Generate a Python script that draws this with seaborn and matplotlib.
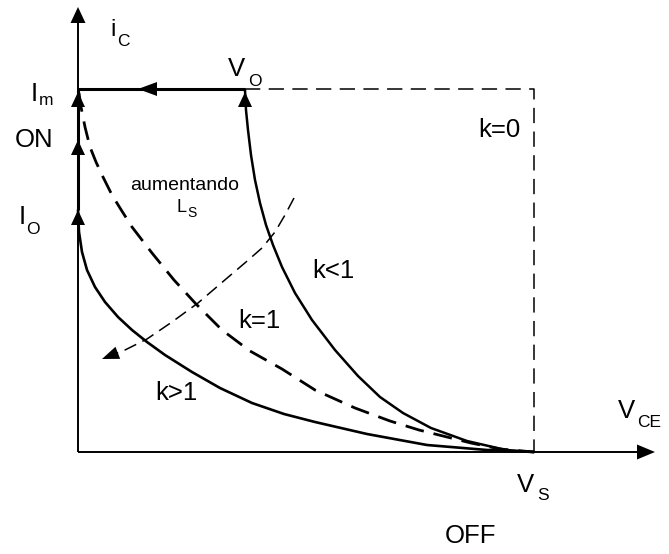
import numpy as np
import pandas as pd
import matplotlib
matplotlib.use("Agg")
import matplotlib.pyplot as plt
from matplotlib.patches import Polygon
import seaborn as sns

# Operating levels (axis units)
V_S = 456      # supply voltage
V_O = 167      # voltage at which the current reaches I_m
I_M = 363      # peak current
I_O = 242      # load current
I_ON = 312     # mid point of the ON rise
VCE_END = 577  # end of the V_CE axis
IC_END = 445   # end of the i_C axis

# Turn-off trajectories (v_CE, i_C)
k_lt1_v = [167, 168, 170, 173, 177, 182, 188, 195, 204, 217, 234, 257, 280,
           302, 325, 353, 389, 428, 456]
k_lt1_i = [362, 342, 322, 297, 272, 249, 227, 207, 185, 159, 132, 102, 76,
           55, 39, 24, 11, 2, 0]

k_eq1_v = [1, 3, 7, 12, 18, 25, 34, 42, 54, 74, 96, 118, 144, 172, 204, 237,
           277, 312, 341, 393, 422, 456]
k_eq1_i = [359, 345, 325, 305, 290, 275, 257, 244, 225, 199, 172, 148, 122,
           101, 83, 62, 44, 31, 22, 9, 3, 0]

k_gt1_v = [0, 1, 4, 9, 17, 27, 40, 54, 69, 87, 114, 142, 174, 206, 237, 289,
           349, 409, 456]
k_gt1_i = [242, 220, 200, 182, 165, 150, 135, 122, 110, 97, 80, 64, 49, 38,
           30, 18, 7, 2, 0]

# "increasing L_S" direction arrow (last point is the tip)
ls_v = [216, 207, 197, 184, 168, 148, 120, 94, 69, 47, 34, 24]
ls_i = [254, 237, 220, 204, 190, 173, 149, 130, 113, 102, 97, 93]

FONT = "Liberation Sans"

sns.set_style("white")
plt.rcParams["font.family"] = [FONT, "DejaVu Sans"]

W, H = 669, 554
fig = plt.figure(figsize=(W / 100, H / 100), dpi=100)
ax = fig.add_axes([0, 0, 1, 1])
ax.set_xlim(-78, W - 78)
ax.set_ylim(452 - H, 452)
ax.set_axis_off()


def head(tip, direction, length=15, width=14):
    d = np.asarray(direction, float)
    d = d / np.hypot(*d)
    n = np.array([-d[1], d[0]])
    tip = np.asarray(tip, float)
    base = tip - d * length
    pts = [tip, base + n * width / 2, base - n * width / 2]
    ax.add_patch(Polygon(pts, closed=True, color="black", lw=0, zorder=5))


def curve(v, i, lw, ls="-"):
    df = pd.DataFrame({"v": v, "i": i})
    sns.lineplot(data=df, x="v", y="i", sort=False, estimator=None, ax=ax,
                 color="black", lw=lw, linestyle=ls, solid_joinstyle="round",
                 dash_joinstyle="round", legend=False)


# Axes with arrows
ax.plot([0, 0], [0, IC_END - 12], color="black", lw=1.4, solid_capstyle="butt")
ax.plot([0, VCE_END - 14], [0, 0], color="black", lw=1.4, solid_capstyle="butt")
head((0, IC_END), (0, 1), 16, 15)
head((VCE_END, 0), (1, 0), 18, 15)

# ON segment and I_m plateau
ax.plot([0, 0], [I_O, I_M], color="black", lw=2.2, solid_capstyle="butt")
ax.plot([0, V_O], [I_M, I_M], color="black", lw=2.2, solid_capstyle="butt")
head((0, I_M - 3), (0, 1))
head((0, I_ON), (0, 1))
head((0, I_O), (0, 1))
head((60, I_M), (-1, 0), 19, 14)

# k = 0 (ideal rectangular path)
ax.plot([V_O, V_S, V_S], [I_M, I_M, 0], color="black", lw=1.1,
        linestyle=(0, (10, 5.5)))

# Trajectories
curve(k_lt1_v, k_lt1_i, 1.8)
head((V_O, I_M - 3), (0, 1))
curve(k_eq1_v, k_eq1_i, 2.0, (0, (6.8, 3.6)))
curve(k_gt1_v, k_gt1_i, 1.9)

# Increasing L_S arrow
curve(ls_v[:-1], ls_i[:-1], 1.1, (0, (8.5, 4.5)))
head((ls_v[-1], ls_i[-1]), (ls_v[-1] - ls_v[-3], ls_i[-1] - ls_i[-3]), 17, 13)


def label(x, y, s, size=18.5):
    ax.text(x - 78, 452 - y, s, fontsize=size, family=FONT, ha="left",
            va="baseline", color="black")


SUB = 12.5
label(110, 36, "i", 17)
label(117, 46, "C", SUB)
label(31, 101, "I")
label(39, 105, "m", SUB)
label(15, 147, "ON")
label(19, 224, "I")
label(26, 234, "O", SUB)
label(228, 76, "V")
label(248, 86, "O", SUB)
label(478, 137, "k=0")
label(130, 190, "aumentando", 14)
label(177, 212, "L", 13)
label(187, 217, "S", 10)
label(312, 278, "k<1")
label(238, 328, "k=1")
label(155, 400, "k>1")
label(618, 418, "V")
label(637, 427, "CE", SUB)
label(517, 492, "V")
label(537, 500, "S", SUB)
label(445, 543, "OFF")

fig.savefig("out.png", dpi=100)
